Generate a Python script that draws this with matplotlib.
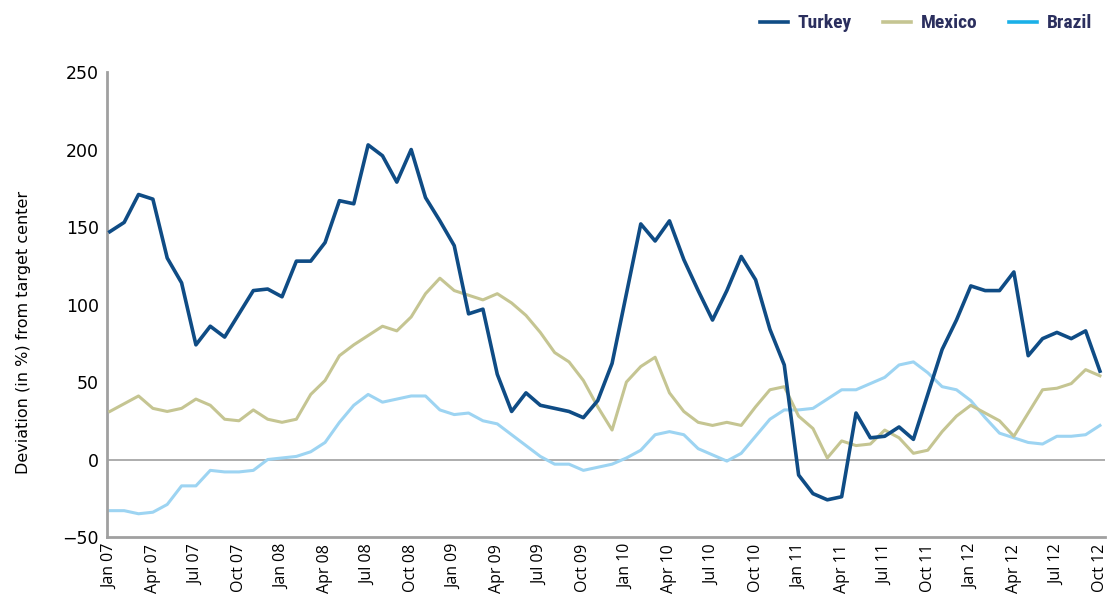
import numpy as np
import matplotlib
matplotlib.use("Agg")
import matplotlib.pyplot as plt
from matplotlib.lines import Line2D

# monthly, Jan 07 .. Oct 12
months = ["Jan", "Feb", "Mar", "Apr", "May", "Jun", "Jul", "Aug", "Sep", "Oct", "Nov", "Dec"]
dates = [f"{months[i % 12]} {7 + i // 12:02d}" for i in range(70)]

turkey = [147, 153, 171, 168, 130, 114, 74, 86, 79, 94, 109, 110, 105, 128, 128, 140,
          167, 165, 203, 196, 179, 200, 169, 154, 138, 94, 97, 55, 31, 43, 35, 33, 31,
          27, 38, 62, 107, 152, 141, 154, 129, 109, 90, 109, 131, 116, 84, 61, -10, -22,
          -26, -24, 30, 14, 15, 21, 13, 42, 71, 90, 112, 109, 109, 121, 67, 78, 82, 78,
          83, 57]
mexico = [31, 36, 41, 33, 31, 33, 39, 35, 26, 25, 32, 26, 24, 26, 42, 51, 67, 74, 80, 86,
          83, 92, 107, 117, 109, 106, 103, 107, 101, 93, 82, 69, 63, 51, 34, 19, 50, 60,
          66, 43, 31, 24, 22, 24, 22, 34, 45, 47, 28, 20, 1, 12, 9, 10, 19, 14, 4, 6, 18,
          28, 35, 30, 25, 15, 30, 45, 46, 49, 58, 54]
brazil = [-33, -33, -35, -34, -29, -17, -17, -7, -8, -8, -7, 0, 1, 2, 5, 11, 24, 35, 42,
          37, 39, 41, 41, 32, 29, 30, 25, 23, 16, 9, 2, -3, -3, -7, -5, -3, 1, 6, 16, 18,
          16, 7, 3, -1, 4, 15, 26, 32, 32, 33, 39, 45, 45, 49, 53, 61, 63, 56, 47, 45, 38,
          27, 17, 14, 11, 10, 15, 15, 16, 22]

yticks = [-50, 0, 50, 100, 150, 200, 250]

fig = plt.figure(figsize=(11.13, 6.07), dpi=100)
ax = fig.add_axes([0.0961, 0.1153, 0.8967, 0.7660])

x = np.arange(len(dates))
ax.axhline(0, color="#a0a0a0", lw=1.2, zorder=1)
ax.plot(x, brazil, color="#9dd4f2", lw=2.2, label="Brazil", zorder=2)
ax.plot(x, mexico, color="#c5c592", lw=2.2, label="Mexico", zorder=3)
ax.plot(x, turkey, color="#0f4c85", lw=2.6, label="Turkey", zorder=4)

ax.set_xlim(-0.2, 69.35)
ax.set_ylim(-50, 250)
ax.set_yticks(yticks)
ax.set_yticklabels([str(v).replace("-", "\u2212") for v in yticks], fontsize=12.5)
ax.set_xticks(x[::3])
ax.set_xticklabels(dates[::3], rotation=90, fontsize=11.5, family="Open Sans")
ax.tick_params(length=0, pad=6)
ax.tick_params(axis="x", pad=5)

for s in ["top", "right"]:
    ax.spines[s].set_visible(False)
for s in ["left", "bottom"]:
    ax.spines[s].set_color("#a0a0a0")
    ax.spines[s].set_linewidth(2)

ax.set_ylabel("Deviation (in %) from target center", fontsize=11.5)
ax.yaxis.set_label_coords(-0.076, 0.44)

# legend at top right
handles = [Line2D([], [], color="#0f4c85", lw=2.6),
           Line2D([], [], color="#c5c592", lw=2.6),
           Line2D([], [], color="#1ab0e8", lw=2.6)]
fig.legend(handles, ["Turkey", "Mexico", "Brazil"], loc="upper right",
           bbox_to_anchor=(0.997, 1.005), ncol=3, frameon=False,
           handlelength=1.45, columnspacing=1.6, handletextpad=0.5,
           labelcolor="#2b2f5e", prop={"family": "Roboto Condensed", "size": 14, "weight": "bold"})

fig.savefig("out.png", dpi=100)
